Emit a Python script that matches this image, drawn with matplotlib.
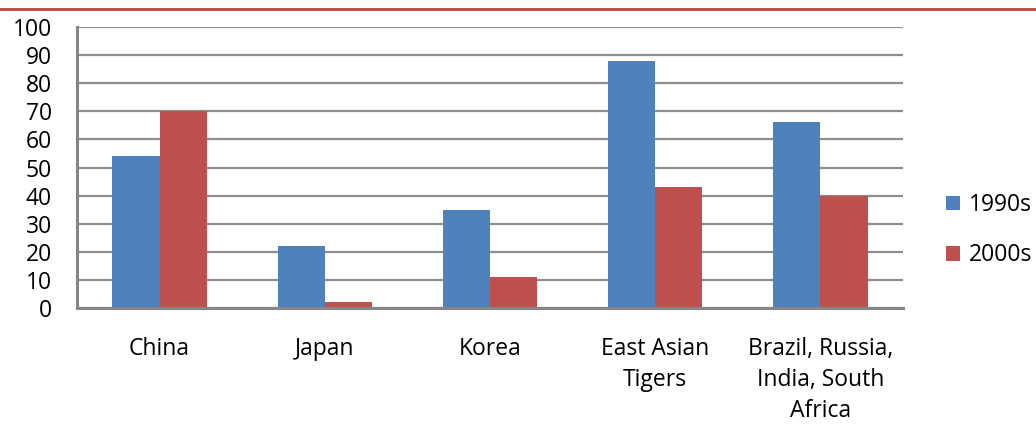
import numpy as np
import matplotlib

matplotlib.use("Agg")
import matplotlib.pyplot as plt
from matplotlib.lines import Line2D

categories = ["China", "Japan", "Korea", "East Asian\nTigers",
              "Brazil, Russia,\nIndia, South\nAfrica"]
series_names = ["1990s", "2000s"]
values_1990s = [54, 22, 35, 88, 66]
values_2000s = [70, 2.3, 11, 43, 40]
yticks = [0, 10, 20, 30, 40, 50, 60, 70, 80, 90, 100]

blue = "#4F81BD"
red = "#C0504D"
grid_gray = "#8E8E8E"
fs = 16.5

plt.rcParams["font.family"] = ["Open Sans", "DejaVu Sans"]

fig = plt.figure(figsize=(10.36, 4.24), dpi=100)
ax = fig.add_axes([0.0743, 0.2729, 0.8716 - 0.0743, 0.937 - 0.2729])

x = np.arange(len(categories))
w = 1 / 3.5
ax.bar(x - w / 2, values_1990s, width=w, color=blue, label=series_names[0], zorder=3)
ax.bar(x + w / 2, values_2000s, width=w, color=red, label=series_names[1], zorder=3)

ax.set_xlim(-0.5, len(categories) - 0.5)
ax.set_ylim(0, 100)
ax.set_yticks(yticks)
ax.set_xticks(x)
ax.set_xticklabels(categories, fontsize=fs, linespacing=1.38)
ax.tick_params(axis="y", labelsize=fs, length=0, pad=18)
ax.tick_params(axis="x", length=0, pad=21)
for lab in ax.get_xticklabels():
    lab.set_verticalalignment("top")

ax.yaxis.grid(True, color=grid_gray, linewidth=1.6, zorder=0)
ax.set_axisbelow(True)
for side in ["top", "right"]:
    ax.spines[side].set_visible(False)
for side in ["left", "bottom"]:
    ax.spines[side].set_color("#868686")
    ax.spines[side].set_linewidth(2.2)
    ax.spines[side].set_zorder(4)

fig.legend(loc="center left", bbox_to_anchor=(0.893, 0.457), frameon=False,
           fontsize=fs, handlelength=0.6, handleheight=0.6, handletextpad=0.4,
           labelspacing=1.15)

fig.add_artist(Line2D([0, 1], [1 - 9 / 424, 1 - 9 / 424], color=red, linewidth=2.2,
                      transform=fig.transFigure))

fig.savefig("out.png", dpi=100, facecolor="white")
